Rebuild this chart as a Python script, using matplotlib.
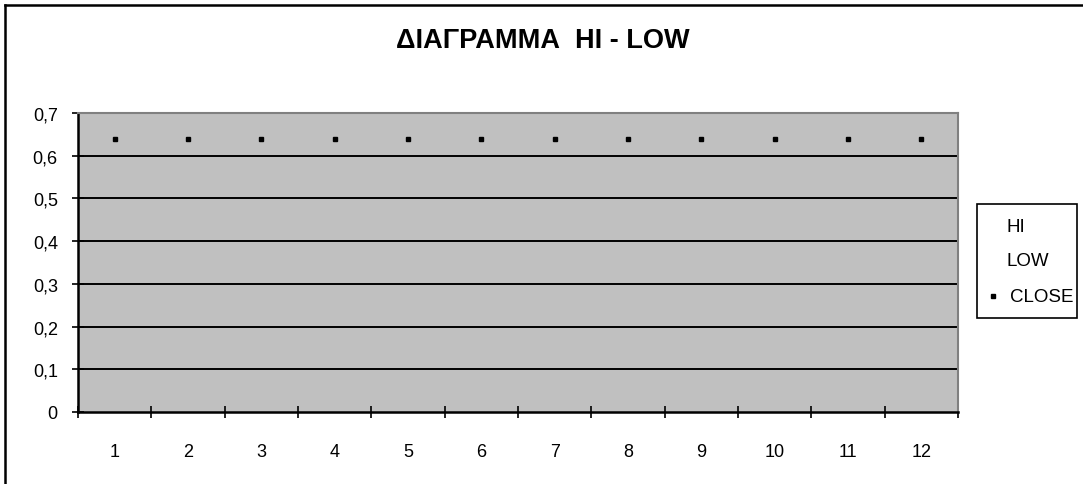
import matplotlib.pyplot as plt
from matplotlib.lines import Line2D
from matplotlib.patches import Rectangle

plt.rcParams['font.family'] = ['Liberation Sans', 'DejaVu Sans']

# chart data
months = [1, 2, 3, 4, 5, 6, 7, 8, 9, 10, 11, 12]
hi = [0.64] * 12
low = [0.64] * 12
close = [0.64] * 12
y_ticks = [0, 0.1, 0.2, 0.3, 0.4, 0.5, 0.6, 0.7]
legend_labels = ['HI', 'LOW', 'CLOSE']

W, H = 1083, 485
fig = plt.figure(figsize=(W / 100, H / 100), dpi=100)
ax = fig.add_axes([78 / W, 72 / H, 880 / W, 299 / H])
ax.set_facecolor('#c0c0c0')

# outer frame (only top and left visible in the reference)
fig.add_artist(Line2D([5 / W, 5 / W], [0, 1 - 6 / H], color='black', lw=1.8))
fig.add_artist(Line2D([5 / W, 1], [1 - 6 / H, 1 - 6 / H], color='black', lw=1.8))

# hi-low lines, then the close markers
ax.vlines(months, low, hi, color='black', lw=1)
ax.plot(months, close, linestyle='none', marker='s', markersize=3, color='black')

for v in y_ticks[1:-1]:
    ax.axhline(v, color='black', lw=1.4, zorder=1)

ax.set_xlim(0.5, 12.5)
ax.set_ylim(0, 0.7)
ax.set_yticks(y_ticks)
ax.set_yticklabels([str(v).replace('.', ',') for v in y_ticks])
ax.set_xticks([m - 0.5 for m in months] + [12.5])
ax.set_xticklabels([])
ax.set_xticks(months, minor=True)
ax.set_xticklabels([str(m) for m in months], minor=True)
ax.tick_params(axis='x', which='minor', length=0, pad=22, labelsize=13)
ax.tick_params(axis='x', which='major', direction='inout', length=9, width=1.2)
ax.tick_params(axis='y', direction='inout', length=9, width=1.2, labelsize=13, pad=10)

for side in ['top', 'right']:
    ax.spines[side].set_color('#808080')
    ax.spines[side].set_linewidth(1.5)
for side in ['left', 'bottom']:
    ax.spines[side].set_color('black')
    ax.spines[side].set_linewidth(1.8)

fig.text(543 / W, 1 - 41 / H, 'ΔΙΑΓΡΑΜΜΑ  HI - LOW', ha='center', va='center',
         fontsize=19.5, fontweight='bold')

# legend drawn by hand, Excel style (HI / LOW entries have no symbol)
fig.add_artist(Rectangle((977 / W, 1 - 319 / H), 100 / W, 114 / H, transform=fig.transFigure,
                         facecolor='white', edgecolor='black', lw=1.2))
rows_y = [227, 262, 297]
for lab, yy in zip(legend_labels, rows_y):
    xx = 1010 if lab == 'CLOSE' else 1007
    fig.text(xx / W, 1 - yy / H, lab, ha='left', va='center', fontsize=13.5)
fig.add_artist(Line2D([993 / W], [1 - rows_y[2] / H], linestyle='none', marker='s',
                      markersize=3, color='black'))

fig.savefig('out.png', dpi=100)
